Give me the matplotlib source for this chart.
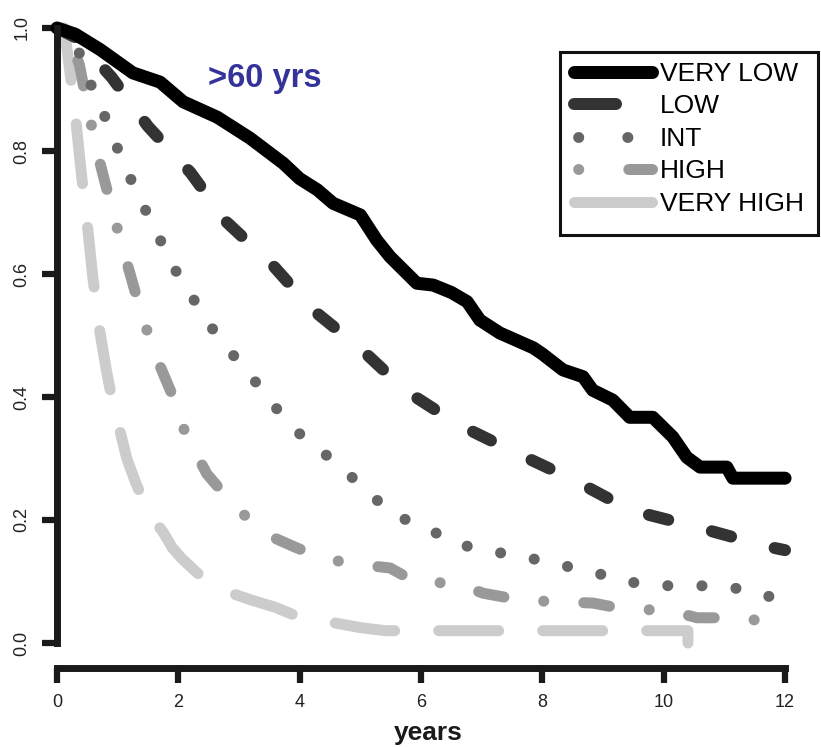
import matplotlib
matplotlib.use("Agg")
import matplotlib.pyplot as plt
from matplotlib.lines import Line2D
from matplotlib.patches import Rectangle

plt.rcParams['font.family'] = ['Liberation Sans', 'DejaVu Sans']
plt.rcParams['lines.scale_dashes'] = False

# ---------------- data ----------------
groups = ["VERY LOW", "LOW", "INT", "HIGH", "VERY HIGH"]

very_low_t = [0, 0.3, 0.71, 1.25, 1.7, 2.08, 2.64, 3.18, 3.73, 4.0, 4.29, 4.55, 5.0, 5.27, 5.49,
              5.93, 6.2, 6.5, 6.76, 6.97, 7.3, 7.85, 8.0, 8.34, 8.67, 8.83, 9.16, 9.44, 9.82,
              10.15, 10.38, 10.6, 11.04, 11.14, 12.0]
very_low_s = [1.0, 0.99, 0.965, 0.927, 0.912, 0.88, 0.855, 0.821, 0.78, 0.755, 0.737, 0.715, 0.696,
              0.655, 0.628, 0.585, 0.582, 0.57, 0.555, 0.525, 0.504, 0.48, 0.47, 0.444, 0.433,
              0.411, 0.395, 0.367, 0.367, 0.335, 0.302, 0.286, 0.286, 0.268, 0.268]

low_t = [0, 0.3, 0.9, 1.5, 2.2, 2.8, 3.55, 4.2, 5.0, 5.75, 6.6, 7.55, 8.5, 9.45, 10.6, 11.7, 12.0]
low_s = [1.0, 0.985, 0.92, 0.84, 0.765, 0.684, 0.615, 0.543, 0.479, 0.41, 0.356, 0.31, 0.266,
         0.216, 0.187, 0.157, 0.151]

int_t = [0, 0.15, 0.35, 0.54, 0.76, 0.96, 1.17, 1.4, 1.65, 1.83, 2.14, 2.41, 2.7, 3.03, 3.35,
         3.66, 4.02, 4.42, 4.8, 5.18, 5.54, 6.08, 6.51, 7.1, 7.7, 8.3, 8.88, 9.43, 10.09, 10.8,
         11.46, 11.97, 12.0]
int_s = [1.0, 0.99, 0.964, 0.912, 0.863, 0.813, 0.764, 0.715, 0.668, 0.625, 0.577, 0.533, 0.491,
         0.454, 0.415, 0.376, 0.338, 0.307, 0.275, 0.241, 0.208, 0.189, 0.163, 0.15, 0.14, 0.127,
         0.114, 0.099, 0.093, 0.093, 0.086, 0.067, 0.065]

high_t = [0, 0.2, 0.37, 0.53, 0.71, 0.92, 1.13, 1.34, 1.58, 1.88, 2.12, 2.47, 2.93, 3.44, 3.92,
          4.37, 4.93, 5.49, 5.93, 6.56, 7.02, 7.63, 8.22, 8.83, 9.41, 10.05, 10.55, 11.26, 11.8, 12.0]
high_s = [1.0, 0.985, 0.94, 0.858, 0.78, 0.70, 0.626, 0.553, 0.478, 0.408, 0.34, 0.275, 0.222,
          0.177, 0.156, 0.138, 0.128, 0.122, 0.098, 0.098, 0.081, 0.07, 0.067, 0.065, 0.054,
          0.054, 0.041, 0.041, 0.033, 0.033]

very_high_t = [0, 0.12, 0.25, 0.3, 0.41, 0.5, 0.59, 0.7, 0.82, 0.92, 1.05, 1.15, 1.3, 1.45, 1.6,
               1.75, 1.9, 2.05, 2.3, 2.6, 2.9, 3.2, 3.6, 3.92, 4.2, 4.5, 5.0, 5.41, 10.4, 10.4]
very_high_s = [1.0, 1.0, 0.90, 0.86, 0.755, 0.68, 0.595, 0.51, 0.44, 0.39, 0.34, 0.30, 0.26,
               0.225, 0.2, 0.18, 0.155, 0.138, 0.115, 0.089, 0.08, 0.07, 0.058, 0.045, 0.04,
               0.034, 0.025, 0.02, 0.02, 0.0]

x_ticks = [0, 2, 4, 6, 8, 10, 12]
y_ticks = [0.0, 0.2, 0.4, 0.6, 0.8, 1.0]
y_tick_labels = ["0.0", "0.2", "0.4", "0.6", "0.8", "1.0"]

# ---------------- styles ----------------
def pt(px):
    return px * 0.72

colors = ["#000000", "#333333", "#666666", "#999999", "#cccccc"]
widths = [pt(13), pt(12), pt(11), pt(11), pt(11)]
styles = ["-",
          (0, (pt(20), pt(45))),
          (0, (0.1, pt(34))),
          (0, (0.1, pt(40), pt(26), pt(40))),
          (0, (pt(60), pt(44)))]
series = [(very_low_t, very_low_s), (low_t, low_s), (int_t, int_s),
          (high_t, high_s), (very_high_t, very_high_s)]

W, H = 821, 747
fig = plt.figure(figsize=(W / 100, H / 100), dpi=100)

# axes placement (pixel geometry)
x0px, pxyr = 57.0, 60.67
y1px, y0px = 28.0, 643.0
xlim = (-0.02, 12.5)
ylim = (-0.04, 1.04)
unit_y = y0px - y1px
left_px = x0px + xlim[0] * pxyr
right_px = x0px + xlim[1] * pxyr
bot_px = y0px - ylim[0] * unit_y
top_px = y0px - ylim[1] * unit_y
ax = fig.add_axes([left_px / W, 1 - bot_px / H, (right_px - left_px) / W, (bot_px - top_px) / H])

for i in range(len(groups) - 1, -1, -1):
    t, s = series[i]
    ax.plot(t, s, color=colors[i], lw=widths[i], linestyle=styles[i],
            solid_capstyle='round', dash_capstyle='round',
            solid_joinstyle='round', dash_joinstyle='round',
            clip_on=False, zorder=3 + (len(groups) - i))

ax.set_xlim(*xlim)
ax.set_ylim(*ylim)

for sp in ['top', 'right']:
    ax.spines[sp].set_visible(False)
ax.spines['left'].set_position(('data', 0))
ax.spines['left'].set_bounds(0, 1)
ax.spines['bottom'].set_bounds(0, 12)
for sp in ['left', 'bottom']:
    ax.spines[sp].set_linewidth(5)
    ax.spines[sp].set_color('#1a1a1a')
    ax.spines[sp].set_zorder(20)

ax.set_xticks(x_ticks)
ax.set_xticklabels([str(v) for v in x_ticks])
ax.set_yticks(y_ticks)
ax.set_yticklabels(y_tick_labels, rotation=90, va='center')
ax.tick_params(direction='out', length=10.5, width=4.5, pad=8.5, labelsize=13,
               color='#1a1a1a', labelcolor='#222222')

fig.text(428 / W, 1 - 733 / H, "years", ha='center', va='center',
         fontsize=19, fontweight='bold', color='#1a1a1a')
fig.text(265 / W, 1 - 87 / H, ">60 yrs", ha='center', va='baseline',
         fontsize=23.5, fontweight='bold', color='#333399')

# legend handles
leg_styles = ["-",
              (0, (pt(42), pt(200))),
              (pt(45), (0.1, pt(49))),
              (pt(170), (0.1, pt(50), pt(24), pt(100))),
              "-"]
handles = [Line2D([0], [0], color=colors[i], lw=widths[i],
                  linestyle=leg_styles[i], solid_capstyle='round', dash_capstyle='round')
           for i in range(len(groups))]
leg = fig.legend(handles, groups, loc='upper left',
                 bbox_to_anchor=(574 / W, 1 - 62 / H), frameon=False,
                 fontsize=19, handlelength=2.95, handletextpad=0.3,
                 labelspacing=0.32, borderpad=0.0, borderaxespad=0.0)

fig.patches.append(Rectangle((560 / W, 1 - 235 / H), (818 - 560) / W, (235 - 52) / H,
                             transform=fig.transFigure, fill=False, lw=2.2,
                             edgecolor='#111111'))

fig.savefig("out.png", dpi=100)
